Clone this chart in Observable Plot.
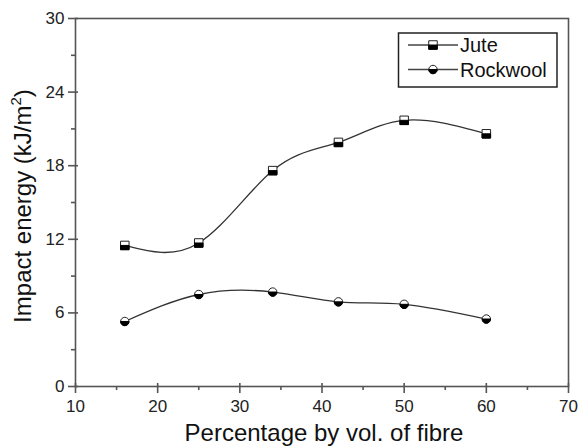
<!DOCTYPE html>
<html><head><meta charset="utf-8">
<script src="https://cdn.jsdelivr.net/npm/d3@7"></script>
<script src="https://cdn.jsdelivr.net/npm/@observablehq/plot@0.6"></script>
<style>
body{margin:0;background:#fff}
#chart{width:578px;height:446px}
</style>
</head><body><div id="chart"></div>
<script>
const fibre = [16, 25, 34, 42, 50, 60];
const jute = [11.5, 11.7, 17.6, 19.9, 21.7, 20.6];
const rockwool = [5.3, 7.5, 7.7, 6.9, 6.7, 5.5];
const seriesNames = ["Jute", "Rockwool"];
const xMajor = [10, 20, 30, 40, 50, 60, 70];
const xMinor = [15, 25, 35, 45, 55, 65];
const yMajor = [0, 6, 12, 18, 24, 30];
const yMinor = [3, 9, 15, 21, 27];
const xLabel = "Percentage by vol. of fibre";
const yLabel = "Impact energy (kJ/m";

const data = [
  ...fibre.map((f, i) => ({series: seriesNames[0], x: f, y: jute[i]})),
  ...fibre.map((f, i) => ({series: seriesNames[1], x: f, y: rockwool[i]}))
];
const juteData = data.filter(d => d.series === "Jute");
const rockData = data.filter(d => d.series === "Rockwool");

const halfSquare = {draw(ctx, size) {
  const w = Math.sqrt(size) / 2;
  ctx.moveTo(-w, 0); ctx.lineTo(w, 0); ctx.lineTo(w, w); ctx.lineTo(-w, w); ctx.closePath();
}};
const halfCircle = {draw(ctx, size) {
  const r = Math.sqrt(size / Math.PI);
  ctx.moveTo(r, 0); ctx.arc(0, 0, r, 0, Math.PI); ctx.closePath();
}};

const axisColor = "#555";
const tickFont = 17;
const chart = Plot.plot({
  width: 578, height: 446,
  marginLeft: 75, marginRight: 10, marginTop: 18, marginBottom: 60,
  style: {fontFamily: "'Liberation Sans', Arial, sans-serif", fontSize: "17px", color: "#222", background: "#fff"},
  x: {domain: [10, 70]},
  y: {domain: [0, 30]},
  marks: [
    Plot.frame({stroke: axisColor, strokeWidth: 1.6}),
    Plot.axisX(xMajor, {tickSize: 7, tickPadding: 6, fontSize: tickFont, stroke: axisColor, strokeWidth: 1.6, label: null, fill: "#222"}),
    Plot.axisX(xMajor, {tickSize: -3, text: null, stroke: axisColor, strokeWidth: 1.6, label: null}),
    Plot.axisX(xMinor, {tickSize: 4, text: null, stroke: axisColor, strokeWidth: 1.6, label: null}),
    Plot.axisY(yMajor, {tickSize: 7, tickPadding: 4, fontSize: tickFont, stroke: axisColor, strokeWidth: 1.6, label: null, fill: "#222"}),
    Plot.axisY(yMajor, {tickSize: -3, text: null, stroke: axisColor, strokeWidth: 1.6, label: null}),
    Plot.axisY(yMinor, {tickSize: 4, text: null, stroke: axisColor, strokeWidth: 1.6, label: null}),
    Plot.line(data, {x: "x", y: "y", z: "series", curve: "natural", stroke: "#333", strokeWidth: 1.3}),
    Plot.dot(juteData, {x: "x", y: "y", symbol: "square", r: 4.8, fill: "#fff", stroke: "#222", strokeWidth: 1}),
    Plot.dot(juteData, {x: "x", y: "y", symbol: halfSquare, r: 4.8, fill: "#000", stroke: "#000", strokeWidth: 1}),
    Plot.dot(rockData, {x: "x", y: "y", symbol: "circle", r: 4.2, fill: "#fff", stroke: "#222", strokeWidth: 1}),
    Plot.dot(rockData, {x: "x", y: "y", symbol: halfCircle, r: 4.2, fill: "#000", stroke: "#000", strokeWidth: 1})
  ]
});
document.getElementById("chart").append(chart);

const svg = d3.select(chart);
const font = "'Liberation Sans', Arial, sans-serif";
// axis titles
svg.append("text")
  .attr("x", 324).attr("y", 441)
  .attr("text-anchor", "middle")
  .attr("font-family", font).attr("font-size", 24).attr("fill", "#111")
  .text(xLabel);
const yl = svg.append("text")
  .attr("transform", "translate(31,206) rotate(-90)")
  .attr("text-anchor", "middle")
  .attr("font-family", font).attr("font-size", 24).attr("fill", "#111");
yl.append("tspan").text(yLabel);
yl.append("tspan").attr("font-size", 15).attr("dy", -10).text("2");
yl.append("tspan").attr("dy", 10).text(")");

// legend
const lg = svg.append("g");
lg.append("rect").attr("x", 398.5).attr("y", 33).attr("width", 158.5).attr("height", 54)
  .attr("fill", "#fff").attr("stroke", "#222").attr("stroke-width", 1.5);
const legendItems = [
  {name: seriesNames[0], y: 45, full: d3.symbolSquare, half: halfSquare, r: 4.8},
  {name: seriesNames[1], y: 69.5, full: d3.symbolCircle, half: halfCircle, r: 4.2}
];
legendItems.forEach(it => {
  lg.append("line").attr("x1", 408).attr("x2", 458).attr("y1", it.y).attr("y2", it.y)
    .attr("stroke", "#444").attr("stroke-width", 1.3);
  const size = Math.PI * it.r * it.r;
  lg.append("path").attr("transform", `translate(433,${it.y})`)
    .attr("d", d3.symbol(it.full, size)()).attr("fill", "#fff").attr("stroke", "#222");
  lg.append("path").attr("transform", `translate(433,${it.y})`)
    .attr("d", d3.symbol(it.half, size)()).attr("fill", "#000").attr("stroke", "#000");
  lg.append("text").attr("x", 460).attr("y", it.y + 7)
    .attr("text-anchor", "start")
    .attr("font-family", font).attr("font-size", 20).attr("fill", "#111").text(it.name);
});
</script>
</body></html>
